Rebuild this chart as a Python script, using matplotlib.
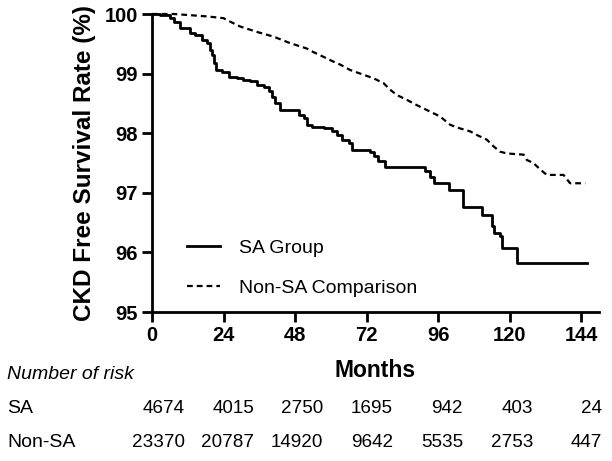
import matplotlib.pyplot as plt

plt.rcParams['font.family'] = ['Liberation Sans', 'DejaVu Sans']

# Kaplan-Meier style curves (months, survival %)
sa_months = [0, 2.8, 6.1, 7.3, 9.5, 12.9, 14.5, 16.8, 18.4, 19.6, 20.1, 20.9, 21.6,
             23.5, 25.7, 28.5, 30.7, 33.0, 35.2, 37.5, 39.1, 40.3, 41.4, 43.0, 47.5,
             49.2, 50.9, 52.0, 53.7, 57.6, 60.4, 62.1, 63.7, 66.0, 67.1, 73.2, 74.4,
             76.0, 78.3, 90.6, 91.7, 93.4, 94.5, 98.9, 99.5, 104.0, 104.5, 110.1,
             110.7, 113.5, 114.0, 114.6, 116.8, 117.4, 121.9, 122.4, 145.9]
sa_surv = [100.0, 99.98, 99.93, 99.87, 99.76, 99.68, 99.65, 99.56, 99.51, 99.40, 99.31,
           99.17, 99.06, 99.03, 98.95, 98.92, 98.89, 98.87, 98.81, 98.77, 98.70, 98.61,
           98.50, 98.39, 98.39, 98.31, 98.25, 98.14, 98.11, 98.08, 98.03, 97.97, 97.89,
           97.83, 97.72, 97.69, 97.61, 97.53, 97.44, 97.44, 97.36, 97.27, 97.16, 97.16,
           97.05, 97.05, 96.77, 96.77, 96.63, 96.63, 96.44, 96.32, 96.27, 96.07, 96.07,
           95.82, 95.82]

nonsa_months = [0, 7.3, 18.4, 24.0, 26.3, 29.6, 35.2, 40.8, 46.4, 52.0, 54.2, 57.6,
                60.9, 63.2, 66.5, 71.0, 74.4, 77.7, 79.9, 82.2, 85.5, 88.9, 93.4, 96.7,
                100.1, 103.4, 106.8, 109.0, 112.4, 114.6, 116.8, 119.1, 124.7, 125.8,
                128.0, 130.3, 132.5, 138.1, 140.3, 145.4]
nonsa_surv = [100.0, 100.0, 99.96, 99.93, 99.87, 99.79, 99.70, 99.62, 99.51, 99.42,
              99.36, 99.28, 99.20, 99.15, 99.06, 98.98, 98.92, 98.84, 98.73, 98.64,
              98.56, 98.47, 98.36, 98.28, 98.14, 98.08, 98.03, 97.97, 97.89, 97.78,
              97.69, 97.66, 97.64, 97.55, 97.50, 97.39, 97.30, 97.30, 97.16, 97.16]

x_ticks = [0, 24, 48, 72, 96, 120, 144]
y_ticks = [95, 96, 97, 98, 99, 100]

risk_groups = ['SA', 'Non-SA']
risk_sa = [4674, 4015, 2750, 1695, 942, 403, 24]
risk_nonsa = [23370, 20787, 14920, 9642, 5535, 2753, 447]

W, H = 612, 461
fig = plt.figure(figsize=(W / 100, H / 100), dpi=100)
ax = fig.add_axes([152 / W, 1 - 312 / H, 447 / W, 298 / H])

ax.step(sa_months, sa_surv, where='post', color='black', lw=2,
        label='SA Group', clip_on=False)
ax.plot(nonsa_months, nonsa_surv, color='black', lw=1.6, linestyle=(0, (2.6, 1.8)),
        label='Non-SA Comparison', clip_on=False)

ax.set_xlim(0, 150)
ax.set_ylim(95, 100)
ax.set_xticks(x_ticks)
ax.set_yticks(y_ticks)
for s in ['top', 'right']:
    ax.spines[s].set_visible(False)
for s in ['left', 'bottom']:
    ax.spines[s].set_linewidth(2)
ax.tick_params(width=2, length=7, labelsize=14.5, pad=3)
for lab in ax.get_xticklabels() + ax.get_yticklabels():
    lab.set_fontweight('bold')

ax.set_ylabel('CKD Free Survival Rate (%)', fontsize=17.5, fontweight='bold', labelpad=6)
ax.set_xlabel('Months', fontsize=16.5, fontweight='bold', labelpad=10)

ax.legend(loc='upper left', bbox_to_anchor=(0.078, 0.245), frameon=False,
          fontsize=14, handlelength=1.7, handletextpad=1.0, labelspacing=1.15,
          borderpad=0, borderaxespad=0)

# number at risk table
fig.text(7 / W, 1 - 374 / H, 'Number of risk', fontsize=14, style='italic', va='center')
row_y = [408, 442]
col_x = [185, 254, 323, 393, 463, 533, 602]
for name, counts, yy in zip(risk_groups, [risk_sa, risk_nonsa], row_y):
    fig.text(7 / W, 1 - yy / H, name, fontsize=14, va='center')
    for c, xx in zip(counts, col_x):
        fig.text(xx / W, 1 - yy / H, str(c), fontsize=13.6, va='center', ha='right')

fig.savefig('out.png', dpi=100)
